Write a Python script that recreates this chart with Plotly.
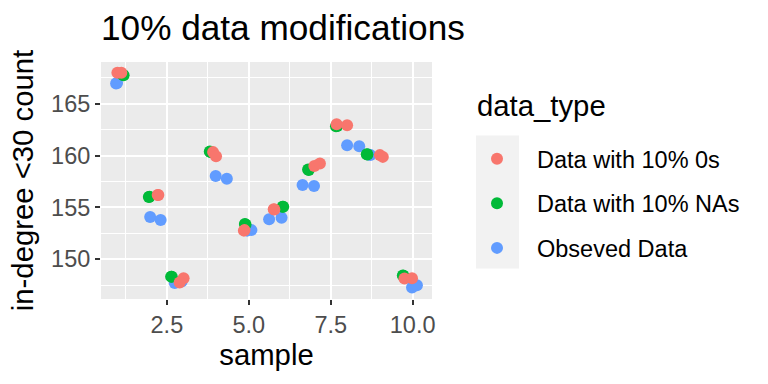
import plotly.graph_objects as go

# ---- data (jittered sample positions and counts) ----
obs_x = [0.95, 0.98, 1.99, 2.31, 2.74, 2.95, 3.99, 4.33, 5.08, 4.95,
         5.62, 6.00, 6.64, 6.99, 8.00, 8.37, 8.71, 8.65, 9.98, 10.13]
obs_y = [166.95, 167.0, 154.07, 153.78, 147.70, 147.85, 158.02, 157.76, 152.80, 152.75,
         153.84, 154.00, 157.15, 157.05, 161.00, 160.90, 160.04, 160.10, 147.27, 147.47]

zero_x = [0.99, 1.11, 2.22, 2.24, 3.01, 2.89, 3.91, 4.00, 4.85, 4.87,
          5.76, 5.78, 7.00, 7.17, 7.68, 8.00, 9.00, 9.09, 9.75, 9.98]
zero_y = [167.99, 167.99, 156.20, 156.20, 148.16, 147.74, 160.33, 159.94, 152.75, 152.80,
          154.81, 154.80, 158.98, 159.24, 163.03, 162.93, 160.04, 159.87, 148.14, 148.16]

na_x = [1.18, 1.15, 1.97, 1.95, 2.63, 2.65, 3.81, 3.83, 4.88, 4.90,
        6.03, 6.05, 6.81, 6.83, 7.66, 7.70, 8.60, 8.62, 9.70, 9.72]
na_y = [167.75, 167.80, 156.02, 156.00, 148.31, 148.30, 160.38, 160.35, 153.40, 153.35,
        155.06, 155.05, 158.66, 158.60, 162.83, 162.85, 160.13, 160.10, 148.43, 148.40]

series_names = ["Data with 10% 0s", "Data with 10% NAs", "Obseved Data"]
series_colors = ["#F8766D", "#00BA38", "#619CFF"]

x_tickvals = [2.5, 5.0, 7.5, 10.0]
x_ticktext = ["2.5", "5.0", "7.5", "10.0"]
y_tickvals = [150, 155, 160, 165]
y_ticktext = ["150", "155", "160", "165"]

# ---- layout geometry (pixels) ----
W, H = 768, 384
L, R, T, B = 101, 432, 62, 299
pw, ph = R - L, B - T


def px2x(p):
    return (p - L) / pw


def px2y(p):
    return (B - p) / ph


FONT = "Liberation Sans, Arial, Helvetica, sans-serif"
F_TICK, F_AXT, F_TITLE = 23.5, 29.3, 35.2

fig = go.Figure()

data_by_series = {
    "Obseved Data": (obs_x, obs_y),
    "Data with 10% NAs": (na_x, na_y),
    "Data with 10% 0s": (zero_x, zero_y),
}
# draw order: blue, green, red (red on top); legend order red, green, blue
for name in ["Obseved Data", "Data with 10% NAs", "Data with 10% 0s"]:
    xs, ys = data_by_series[name]
    idx = series_names.index(name)
    fig.add_trace(go.Scatter(
        x=xs, y=ys, mode="markers", name=name,
        legendgroup=name, legendrank=idx + 1,
        marker=dict(size=12, color=series_colors[idx], line=dict(width=0)),
    ))

fig.update_layout(
    width=W, height=H,
    margin=dict(l=L, r=W - R, t=T, b=H - B, pad=0, autoexpand=False),
    paper_bgcolor="white",
    plot_bgcolor="#EBEBEB",
    font=dict(family=FONT, color="black"),
    title=dict(text="10% data modifications", font=dict(size=F_TITLE, color="black"),
               x=0, xref="paper", xanchor="left",
               y=1 - 28 / H, yref="container", yanchor="middle"),
    xaxis=dict(range=[0.49, 10.59], tickvals=x_tickvals, ticktext=x_ticktext,
               showgrid=True, gridcolor="white", gridwidth=2,
               minor=dict(dtick=1.25, tick0=0, showgrid=True, gridcolor="white", gridwidth=1),
               zeroline=False, showline=False, automargin=False,
               ticks="outside", ticklen=5, tickwidth=2, tickcolor="#333333",
               tickfont=dict(size=F_TICK, color="#4D4D4D"),
               title=dict(text="sample", font=dict(size=F_AXT, color="black"), standoff=5)),
    yaxis=dict(range=[146.15, 169.03], tickvals=y_tickvals, ticktext=y_ticktext,
               showgrid=True, gridcolor="white", gridwidth=2,
               minor=dict(dtick=2.5, tick0=0, showgrid=True, gridcolor="white", gridwidth=1),
               zeroline=False, showline=False, automargin=False,
               ticks="outside", ticklen=5, tickwidth=2, tickcolor="#333333",
               tickfont=dict(size=F_TICK, color="#4D4D4D"),
               title=dict(text="in-degree <30 count", font=dict(size=F_AXT, color="black"), standoff=8)),
    showlegend=True,
    legend=dict(x=px2x(457), y=px2y(137), xanchor="left", yanchor="top",
                bgcolor="rgba(0,0,0,0)", itemwidth=70, tracegroupgap=11,
                traceorder="grouped",
                font=dict(size=F_TICK, color="black")),
    shapes=[dict(type="rect", xref="paper", yref="paper",
                 x0=px2x(476), x1=px2x(519), y0=px2y(268.6), y1=px2y(135.4),
                 fillcolor="#F2F2F2", line=dict(width=0), layer="below")],
    annotations=[dict(text="data_type", xref="paper", yref="paper",
                      x=px2x(475), y=px2y(105), xanchor="left", yanchor="middle",
                      showarrow=False, font=dict(size=F_AXT, color="black"))],
)

fig.write_html("out.html", config={"displayModeBar": False},
               post_script="document.body.style.margin='0px';")
